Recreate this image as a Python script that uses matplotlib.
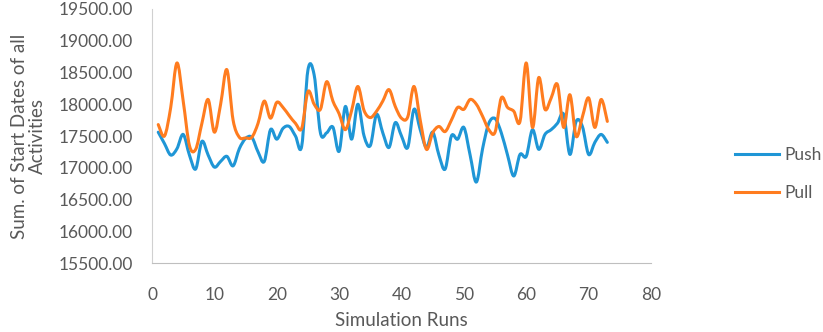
import matplotlib.pyplot as plt
from matplotlib.path import Path
from matplotlib.patches import PathPatch
from matplotlib.lines import Line2D

plt.rcParams['font.family'] = ['Lato', 'DejaVu Sans']

# Values
runs = list(range(1, 74))
push = [17560, 17380, 17200, 17300, 17525, 17200, 16980, 17415, 17200, 17010,
        17100, 17180, 17030, 17300, 17460, 17480, 17250, 17100, 17600, 17450,
        17620, 17650, 17500, 17340, 18540, 18460, 17550, 17550, 17640, 17260,
        17965, 17450, 18000, 17500, 17350, 17840, 17550, 17320, 17710, 17500,
        17320, 17920, 17600, 17320, 17560, 17200, 16980, 17500, 17450, 17635,
        17200, 16775, 17300, 17700, 17775, 17550, 17200, 16870, 17210, 17180,
        17600, 17290, 17525, 17600, 17700, 17840, 17210, 17730, 17650, 17210,
        17400, 17525, 17400]
pull = [17680, 17500, 17950, 18650, 18050, 17350, 17290, 17700, 18075, 17560,
        18000, 18545, 17750, 17480, 17470, 17480, 17700, 18050, 17780, 18030,
        17950, 17820, 17700, 17620, 18200, 18000, 17920, 18355, 18050, 17850,
        17600, 17900, 18280, 17900, 17790, 17890, 18050, 18230, 17965, 17780,
        17800, 18280, 17750, 17290, 17550, 17650, 17570, 17750, 17950, 17920,
        18075, 18000, 17810, 17600, 17560, 18100, 17950, 17890, 17730, 18650,
        17635, 18420, 17920, 18100, 18310, 17635, 18150, 17495, 17800, 18100,
        17635, 18075, 17730]
series_names = ['Push', 'Pull']
colors = ['#1f96d6', '#ff7c1f']
text_c = '#595959'


def smooth_path(xs, ys):
    # Excel style smoothed line: a cubic Bezier through each pair of points
    n = len(xs)
    verts = [(xs[0], ys[0])]
    codes = [Path.MOVETO]
    for i in range(n - 1):
        xa, ya = (xs[i - 1], ys[i - 1]) if i > 0 else (xs[i], ys[i])
        xd, yd = (xs[i + 2], ys[i + 2]) if i + 2 < n else (xs[i + 1], ys[i + 1])
        c1 = (xs[i] + (xs[i + 1] - xa) / 6, ys[i] + (ys[i + 1] - ya) / 6)
        c2 = (xs[i + 1] - (xd - xs[i]) / 6, ys[i + 1] - (yd - ys[i]) / 6)
        verts += [c1, c2, (xs[i + 1], ys[i + 1])]
        codes += [Path.CURVE4] * 3
    return Path(verts, codes)


fig = plt.figure(figsize=(8.23, 3.32), dpi=100)
ax = fig.add_axes([0.1847, 0.2078, 0.6063, 0.7651])

handles = []
for vals, name, c in zip([push, pull], series_names, colors):
    ax.add_patch(PathPatch(smooth_path(runs, vals), fc='none', ec=c, lw=2.2,
                           capstyle='round', joinstyle='round'))
    handles.append(Line2D([], [], color=c, lw=2.2, label=name))

ax.set_xlim(0, 80)
ax.set_ylim(15500, 19500)
ax.set_xticks(range(0, 81, 10))
ax.set_yticks(range(15500, 19501, 500))
ax.set_yticklabels([f'{v:.2f}' for v in range(15500, 19501, 500)])
ax.tick_params(length=0, labelsize=12.5, labelcolor=text_c)
ax.tick_params(axis='x', pad=17)
ax.tick_params(axis='y', pad=14)

for s in ['top', 'right']:
    ax.spines[s].set_visible(False)
ax.spines['left'].set_color('#d0d0d0')
ax.spines['bottom'].set_color('#bfbfbf')

ax.set_xlabel('Simulation Runs', fontsize=13.5, color=text_c, labelpad=7)
ax.set_ylabel('Sum. of Start Dates of all\nActivities', fontsize=13.5,
              color=text_c, labelpad=9, linespacing=1.05)

fig.legend(handles=handles, loc='center left', bbox_to_anchor=(0.883, 0.476),
           frameon=False, fontsize=12.5, handlelength=2.5, handletextpad=0.3,
           labelspacing=1.25, borderpad=0, labelcolor=text_c)

plt.savefig('out.png', dpi=100)
